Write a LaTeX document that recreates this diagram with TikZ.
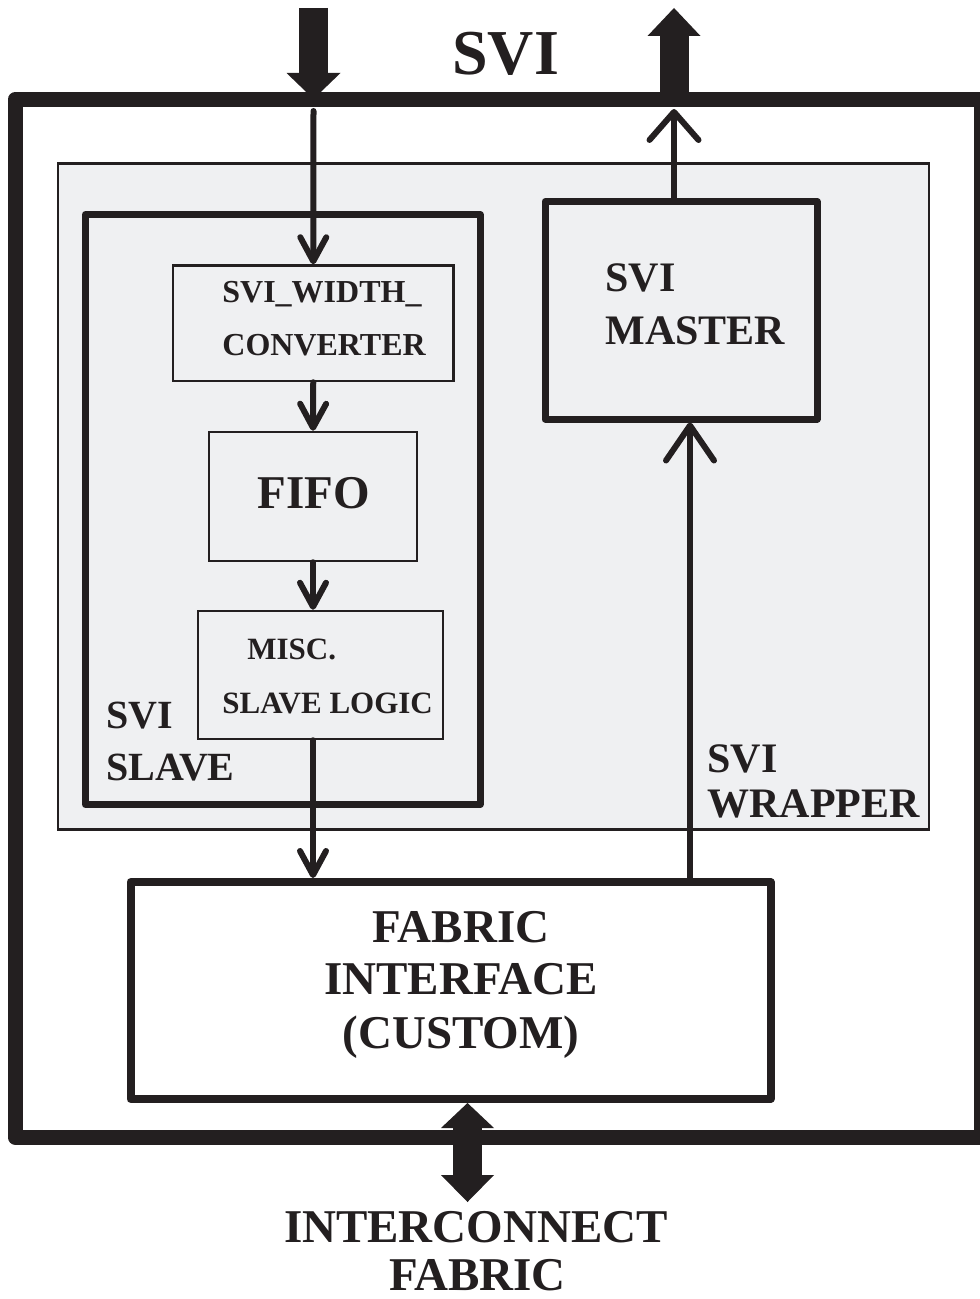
\documentclass[tikz,border=0pt]{standalone}
\usepackage{fontspec}
\setmainfont{Liberation Serif}
\usepackage{tikz}
\usetikzlibrary{positioning,arrows.meta,calc}
\definecolor{sviink}{RGB}{35,31,32}
\definecolor{svigrey}{RGB}{239,240,242}
\tikzset{
  frame/.style={draw=sviink, line width=7.5pt, line join=round},
  wrap/.style={draw=sviink, line width=1.25pt, fill=svigrey, inner sep=0pt},
  unit/.style={draw=sviink, line width=3.5pt, line join=round, inner sep=0pt},
  sub/.style={draw=sviink, line width=1.25pt, inner sep=0pt},
  fab/.style={draw=sviink, line width=4pt, line join=round, fill=white, inner sep=0pt},
  lbl/.style={text=sviink, inner sep=0pt, anchor=base west, font=\bfseries\fontsize{#1}{#1}\selectfont},
  flow/.style={draw=sviink, line width=3pt, line cap=round, -{Straight Barb[length=12pt, width=13pt, round]}},
  bigflow/.style={flow, -{Straight Barb[length=17.5pt, width=24pt, round]}},
  port/.style={draw=sviink, line width=14.5pt},
}

\begin{document}
\begin{tikzpicture}[x=0.5pt, y=-0.5pt]
  \useasboundingbox (0,0) rectangle (979,1299);

  % outer SVI block and wrapper
  \draw[frame] (15,99.5) rectangle (981,1137);
  \node[wrap, minimum width=435.5pt, minimum height=333pt] (wrapper) at (493.5,496.5) {};
  \node[unit, minimum width=197.25pt, minimum height=295pt] (slave) at (282.75,509.5) {};
  \node[unit, minimum width=136pt, minimum height=108.75pt] (master) at (681,310.25) {};
  \node[sub, minimum width=140.25pt, minimum height=57.75pt] (wconv) at (313.25,323.25) {};
  \node[sub, minimum width=104pt, minimum height=64.5pt] (fifo) at (313,496.5) {};
  \node[sub, minimum width=122.5pt, minimum height=64pt] (misc) at (320.5,675) {};
  \node[fab, minimum width=320pt, minimum height=108.5pt] (fabric) at (450.5,990.5) {};

  % labels
  \node[lbl=32] (title) at (452,75) {SVI};
  \node[lbl=16] (wconv-a) at (222,303) {SVI\_WIDTH\_};
  \node[lbl=16] (wconv-b) at (222,355) {CONVERTER};
  \node[lbl=23.5] (fifo-t) at (257,508.5) {FIFO};
  \node[lbl=15.5] (misc-a) at (247,659.5) {MISC.};
  \node[lbl=15.5] (misc-b) at (222,713) {SLAVE LOGIC};
  \node[lbl=20] (slave-a) at (106,728) {SVI};
  \node[lbl=20] (slave-b) at (106,780) {SLAVE};
  \node[lbl=21] (master-a) at (605,292) {SVI};
  \node[lbl=21] (master-b) at (605,344) {MASTER};
  \node[lbl=21] (wrap-a) at (707,772) {SVI};
  \node[lbl=21] (wrap-b) at (707,817) {WRAPPER};
  \node[lbl=23.5, anchor=base] (fab-a) at (461,942) {FABRIC};
  \node[lbl=23.5, anchor=base] (fab-b) at (461,994) {INTERFACE};
  \node[lbl=23.5, anchor=base] (fab-c) at (461,1048) {(CUSTOM)};
  \node[lbl=23.5, anchor=base] (ic-a) at (476,1242) {INTERCONNECT};
  \node[lbl=23.5, anchor=base] (ic-b) at (477.5,1290) {FABRIC};

  % ports
  \coordinate (svi-in) at (313.5,8);
  \coordinate (in-hit) at (313.5,99);
  \coordinate (in-go) at (313.5,111);
  \coordinate (svi-out) at (674,8);
  \coordinate (out-hit) at (674,99.5);
  \coordinate (out-go) at (674,109);
  \coordinate (bus) at (467.5,1202);
  \coordinate (rise) at ($(fabric.north east)+(-84.5,0)$);

  \draw[port, -{Triangle[length=13pt, width=27pt, line width=0pt]}] (svi-in) -- (in-hit);
  \draw[port, -{Triangle[length=14pt, width=26.5pt, line width=0pt]}] (out-hit) -- (svi-out);
  \draw[port, {Triangle[length=12.5pt, width=26.5pt, line width=0pt]}-{Triangle[length=13.5pt, width=26.5pt, line width=0pt]}] (fabric.south -| bus) -- (bus);

  % data path
  \draw[flow] (in-go) -- (wconv.north);
  \draw[flow] (wconv.south) -- (fifo.north);
  \draw[flow] (fifo.south) -- (fifo.south |- misc.north);
  \draw[flow] (misc.south -| fifo.south) -- (fifo.south |- fabric.north);
  \draw[bigflow] (rise) -- (rise |- master.south);
  \draw[flow, -{Straight Barb[length=14pt, width=24.5pt, round]}] (master.north -| out-go) -- (out-go);
\end{tikzpicture}
\end{document}
